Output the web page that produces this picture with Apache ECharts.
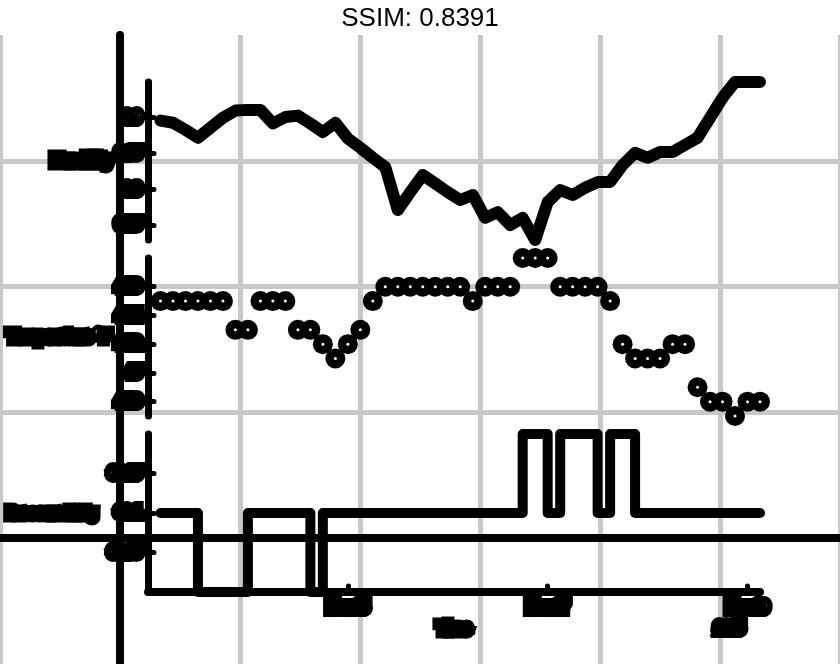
<!DOCTYPE html>
<html>
<head>
<meta charset="utf-8">
<script src="https://cdn.jsdelivr.net/npm/echarts@6/dist/echarts.min.js"></script>
<style>
  html, body { margin: 0; padding: 0; background: #fff; }
  #chart { width: 840px; height: 664px; }
</style>
</head>
<body>
<div id="chart"></div>
<script>
// ---- data ----
const times = [
  '2015-11-13T03:00Z','2015-11-13T06:00Z','2015-11-13T09:00Z','2015-11-13T12:00Z','2015-11-13T15:00Z','2015-11-13T18:00Z','2015-11-13T21:00Z',
  '2015-11-14T00:00Z','2015-11-14T03:00Z','2015-11-14T06:00Z','2015-11-14T09:00Z','2015-11-14T12:00Z','2015-11-14T15:00Z','2015-11-14T18:00Z','2015-11-14T21:00Z',
  '2015-11-15T00:00Z','2015-11-15T03:00Z','2015-11-15T06:00Z','2015-11-15T09:00Z','2015-11-15T12:00Z','2015-11-15T15:00Z','2015-11-15T18:00Z','2015-11-15T21:00Z',
  '2015-11-16T00:00Z','2015-11-16T03:00Z','2015-11-16T06:00Z','2015-11-16T09:00Z','2015-11-16T12:00Z','2015-11-16T15:00Z','2015-11-16T18:00Z','2015-11-16T21:00Z',
  '2015-11-17T00:00Z','2015-11-17T03:00Z','2015-11-17T06:00Z','2015-11-17T09:00Z','2015-11-17T12:00Z','2015-11-17T15:00Z','2015-11-17T18:00Z','2015-11-17T21:00Z',
  '2015-11-18T00:00Z','2015-11-18T03:00Z','2015-11-18T06:00Z','2015-11-18T09:00Z','2015-11-18T12:00Z','2015-11-18T15:00Z','2015-11-18T18:00Z','2015-11-18T21:00Z',
  '2015-11-19T00:00Z','2015-11-19T03:00Z'
];
const humidity = [
  0.896, 0.893, 0.883, 0.872, 0.886, 0.900, 0.910, 0.911, 0.911, 0.892,
  0.901, 0.903, 0.892, 0.880, 0.893, 0.871, 0.858, 0.844, 0.831, 0.771,
  0.796, 0.820, 0.808, 0.796, 0.785, 0.792, 0.760, 0.768, 0.750, 0.760,
  0.729, 0.782, 0.799, 0.792, 0.802, 0.810, 0.810, 0.834, 0.851, 0.844,
  0.852, 0.852, 0.862, 0.872, 0.900, 0.928, 0.950, 0.950, 0.950
];
const temperature = [
  45.5, 45.5, 45.5, 45.5, 45.5, 45.5, 45.3, 45.3, 45.5, 45.5,
  45.5, 45.3, 45.3, 45.2, 45.1, 45.2, 45.3, 45.5, 45.6, 45.6,
  45.6, 45.6, 45.6, 45.6, 45.6, 45.5, 45.6, 45.6, 45.6, 45.8,
  45.8, 45.8, 45.6, 45.6, 45.6, 45.6, 45.5, 45.2, 45.1, 45.1,
  45.1, 45.2, 45.2, 44.9, 44.8, 44.8, 44.7, 44.8, 44.8
];
const pressure = [
  30.1, 30.1, 30.1, 30.0, 30.0, 30.0, 30.0, 30.1, 30.1, 30.1,
  30.1, 30.1, 30.0, 30.1, 30.1, 30.1, 30.1, 30.1, 30.1, 30.1,
  30.1, 30.1, 30.1, 30.1, 30.1, 30.1, 30.1, 30.1, 30.1, 30.2,
  30.2, 30.1, 30.2, 30.2, 30.2, 30.1, 30.2, 30.2, 30.1, 30.1,
  30.1, 30.1, 30.1, 30.1, 30.1, 30.1, 30.1, 30.1, 30.1
];
const humidityTicks = [0.75, 0.8, 0.85, 0.9];
const temperatureTicks = [44.8, 45, 45.2, 45.4, 45.6];
const pressureTicks = [30.05, 30.1, 30.15];
const xTickDates = ['2015-11-15T00:00Z', '2015-11-17T00:00Z', '2015-11-19T00:00Z'];
const xTickLabels = ['Nov 15', 'Nov 17', 'Nov 19\n2015'];
const xStart = '2015-11-13T00:00Z';
const xEnd = '2015-11-19T03:00Z';
const titleText = 'SSIM: 0.8391';
const axisNames = { humidity: 'Humidity', temperature: 'Temperature °F', pressure: 'Pressure inHg', time: 'Time' };

// ---- build ----
const tMs = times.map(t => Date.parse(t));
const xTickMs = xTickDates.map(t => Date.parse(t));
const xMin = Date.parse(xStart), xMax = Date.parse(xEnd);
const pairs = arr => arr.map((v, i) => [tMs[i], v]);

const FONT = 'Liberation Sans, Arial, sans-serif';
const blob = (size, bw) => ({
  fontFamily: FONT, fontWeight: 'bold', fontSize: size, color: '#000',
  textBorderColor: '#000', textBorderWidth: bw
});

function panelY(gridIndex, data, ticks, name, gap, nameSize) {
  return {
    gridIndex, type: 'value',
    min: Math.min(...data), max: Math.max(...data),
    name, nameLocation: 'middle', nameRotate: 0, nameGap: gap, nameMoveOverlap: false,
    nameTextStyle: blob(nameSize, 11),
    axisLine: { show: true, onZero: false, lineStyle: { color: '#000', width: 7, cap: 'round' } },
    axisTick: { show: true, inside: true, length: 6, customValues: ticks, lineStyle: { color: '#000', width: 5, cap: 'round' } },
    axisLabel: Object.assign({ show: true, margin: 8, customValues: ticks }, blob(12, 12)),
    splitLine: { show: false }
  };
}
function panelX(gridIndex, visible) {
  const ax = {
    gridIndex, type: 'value', min: xMin, max: xMax,
    splitLine: { show: false },
    axisLine: { show: visible, onZero: false, lineStyle: { color: '#000', width: 8, cap: 'round' } },
    axisTick: { show: visible, inside: true, length: 6, customValues: xTickMs, lineStyle: { color: '#000', width: 5, cap: 'round' } },
    axisLabel: {
      show: visible, margin: 5, customValues: xTickMs,
      formatter: v => {
        const i = xTickMs.indexOf(v);
        if (i < 0) return '';
        return xTickLabels[i].split('\n').map((l, j) => (j === 0 ? '{a|' + l + '}' : '{b|' + l + '}')).join('\n');
      },
      rich: {
        a: Object.assign({ lineHeight: 21 }, blob(12, 12)),
        b: Object.assign({ lineHeight: 21, padding: [0, 36, 0, 0] }, blob(12, 12))
      }
    }
  };
  if (visible) {
    ax.name = axisNames.time;
    ax.nameLocation = 'middle';
    ax.nameGap = 30;
    ax.nameMoveOverlap = false;
    ax.nameTextStyle = blob(14, 11);
  }
  return ax;
}

const gridBase = { outerBoundsMode: 'none', containLabel: false };
const option = {
  animation: false,
  backgroundColor: '#fff',
  title: {
    text: titleText, left: 'center', top: 1,
    textStyle: { fontFamily: FONT, fontSize: 26, fontWeight: 'normal', color: '#000' }
  },
  grid: [
    Object.assign({ left: 0, top: 35, width: 840, height: 629 }, gridBase),
    Object.assign({ left: 148, top: 82, width: 612, height: 158 }, gridBase),
    Object.assign({ left: 148, top: 258, width: 612, height: 158 }, gridBase),
    Object.assign({ left: 148, top: 434, width: 612, height: 158 }, gridBase)
  ],
  xAxis: [
    {
      gridIndex: 0, type: 'value', min: -1, max: 6, interval: 1,
      axisLine: { show: true, onZero: true, lineStyle: { color: '#000', width: 8 } },
      axisTick: { show: false }, axisLabel: { show: false },
      splitLine: { show: true, lineStyle: { color: '#c8c8c8', width: 5 } }
    },
    panelX(1, false), panelX(2, false), panelX(3, true)
  ],
  yAxis: [
    {
      gridIndex: 0, type: 'value', min: -1, max: 4, interval: 1,
      axisLine: { show: true, onZero: true, lineStyle: { color: '#000', width: 8 } },
      axisTick: { show: false }, axisLabel: { show: false },
      splitLine: { show: true, showMinLine: false, showMaxLine: false, lineStyle: { color: '#c8c8c8', width: 5 } }
    },
    panelY(1, humidity, humidityTicks, axisNames.humidity, 36, 14),
    panelY(2, temperature, temperatureTicks, axisNames.temperature, 38, 14),
    panelY(3, pressure, pressureTicks, axisNames.pressure, 52, 13)
  ],
  series: [
    {
      type: 'line', xAxisIndex: 1, yAxisIndex: 1, data: pairs(humidity),
      showSymbol: false, clip: false,
      lineStyle: { color: '#000', width: 12, cap: 'round', join: 'round' }
    },
    {
      type: 'scatter', xAxisIndex: 2, yAxisIndex: 2, data: pairs(temperature),
      symbol: 'circle', symbolSize: 20, clip: false,
      itemStyle: { color: '#000', opacity: 1 }
    },
    {
      type: 'scatter', xAxisIndex: 2, yAxisIndex: 2, data: pairs(temperature),
      symbol: 'circle', symbolSize: 3, clip: false, z: 3,
      itemStyle: { color: '#fff', opacity: 1 }
    },
    {
      type: 'line', xAxisIndex: 3, yAxisIndex: 3, data: pairs(pressure),
      step: 'end', showSymbol: false, clip: false,
      lineStyle: { color: '#000', width: 10, cap: 'round', join: 'round' }
    }
  ]
};

const chart = echarts.init(document.getElementById('chart'), null, { renderer: 'canvas' });
chart.setOption(option);
</script>
</body>
</html>
